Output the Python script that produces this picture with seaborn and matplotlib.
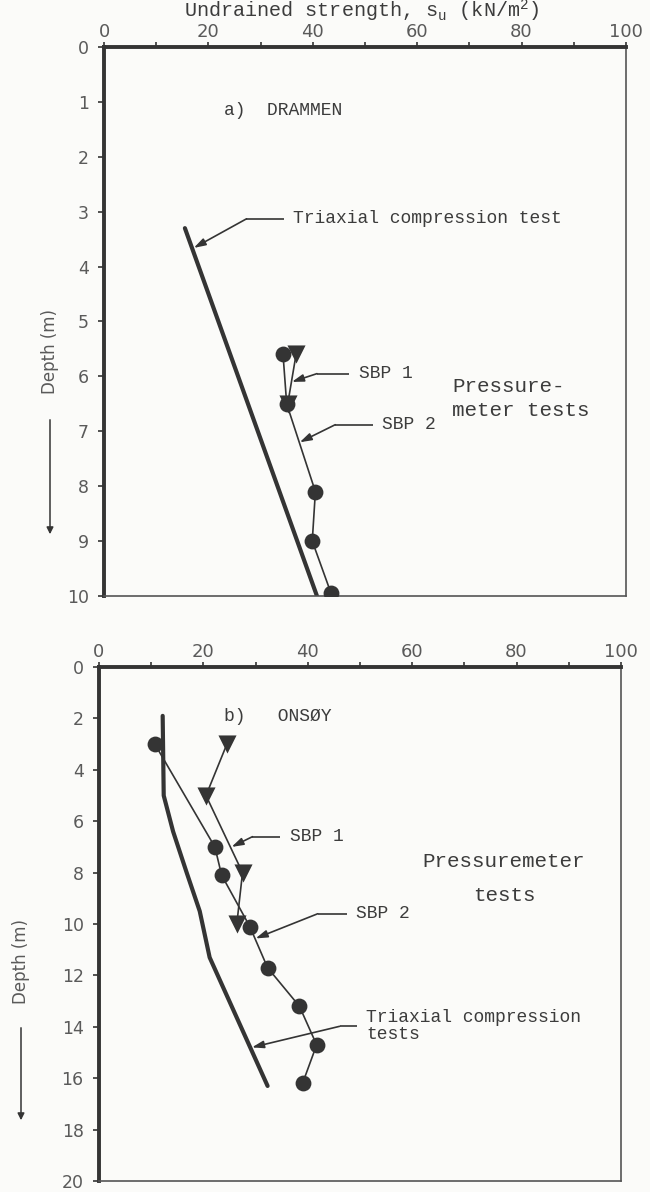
import matplotlib
matplotlib.use("Agg")
import matplotlib.pyplot as plt
import seaborn as sns

# ---------------- data ----------------
# a) Drammen
dr_triax_su = [15.5, 40.8]
dr_triax_depth = [3.3, 10.0]
dr_sbp1_su = [36.8, 35.2]
dr_sbp1_depth = [5.6, 6.5]
dr_sbp2_su = [34.3, 35.0, 40.5, 39.9, 43.5]
dr_sbp2_depth = [5.6, 6.5, 8.1, 9.0, 9.95]

# b) Onsoy
on_triax_su = [12.2, 12.4, 14.2, 16.8, 19.3, 21.2, 32.3]
on_triax_depth = [1.9, 5.0, 6.4, 8.0, 9.5, 11.3, 16.3]
on_sbp1_su = [24.5, 20.5, 27.5, 26.4]
on_sbp1_depth = [3.0, 5.0, 8.0, 10.0]
on_sbp2_su = [10.7, 22.2, 23.5, 28.9, 32.3, 38.4, 41.7, 39.0]
on_sbp2_depth = [3.0, 7.0, 8.1, 10.1, 11.7, 13.2, 14.7, 16.2]

x_major = [0, 20, 40, 60, 80, 100]
x_minor = [10, 30, 50, 70, 90]
top_yticks = list(range(0, 11))
bot_yticks = list(range(0, 21, 2))

# ---------------- style ----------------
sns.set_style("white")
BG = "#fbfbf9"
INK = "#343434"
TXT = "#3c3c3c"
TICKTXT = "#5a5a5a"
MONO = ["Liberation Mono", "DejaVu Sans Mono"]
plt.rcParams["font.family"] = ["DejaVu Sans"]
plt.rcParams["mathtext.fontset"] = "custom"
plt.rcParams["mathtext.rm"] = "Liberation Mono"

fig = plt.figure(figsize=(6.5, 11.92), dpi=100, facecolor=BG)
ax1 = fig.add_axes([0.160, 0.500, 0.803, 0.4606])
ax2 = fig.add_axes([0.1523, 0.0092, 0.803, 0.4312])


def style_axis(ax, ymax, yticks):
    ax.set_facecolor(BG)
    ax.set_xlim(0, 100)
    ax.set_ylim(ymax, 0)
    ax.xaxis.tick_top()
    ax.set_xticks(x_major)
    ax.set_xticks(x_minor, minor=True)
    ax.set_yticks(yticks)
    ax.tick_params(axis="x", which="both", direction="out", length=3.5, width=1.2,
                   color=INK, labelsize=13, labelcolor=TICKTXT, pad=0.5, top=True, bottom=False)
    ax.tick_params(axis="y", direction="out", length=4, width=1.2, color=INK,
                   labelsize=12.5, labelcolor=TICKTXT, pad=7, left=True)
    for side in ["top", "left"]:
        ax.spines[side].set_linewidth(2.8)
        ax.spines[side].set_color(INK)
    for side in ["right", "bottom"]:
        ax.spines[side].set_linewidth(1.2)
        ax.spines[side].set_color("#555555")
    ax.set_xlabel("")
    ax.set_ylabel("")


def leader(ax, text, tx, ty, elbow_x, tip, fs=13, ls=1.2):
    ax.annotate("", xy=tip, xytext=(elbow_x, ty),
                arrowprops=dict(arrowstyle="-|>,head_length=0.7,head_width=0.22",
                                lw=1.2, color=INK, shrinkA=0, shrinkB=0))
    ax.plot([elbow_x, tx - 1.8], [ty, ty], color=INK, lw=1.2, solid_capstyle="butt")
    ax.text(tx, ty, text, family=MONO, fontsize=fs, color=TXT, ha="left", va="center",
            linespacing=ls)


# ---------------- panel a ----------------
style_axis(ax1, 10, top_yticks)
sns.lineplot(x=dr_triax_su, y=dr_triax_depth, sort=False, estimator=None,
             color=INK, lw=3.0, ax=ax1)
sns.lineplot(x=dr_sbp1_su, y=dr_sbp1_depth, sort=False, estimator=None,
             color=INK, lw=1.2, ax=ax1)
sns.lineplot(x=dr_sbp2_su, y=dr_sbp2_depth, sort=False, estimator=None,
             color=INK, lw=1.2, ax=ax1)
sns.scatterplot(x=dr_sbp2_su, y=dr_sbp2_depth, marker="o", s=130, color=INK,
                edgecolor=INK, linewidth=0, ax=ax1, zorder=5)
sns.scatterplot(x=dr_sbp1_su, y=dr_sbp1_depth, marker="v", s=170, color=INK,
                edgecolor=INK, linewidth=0, ax=ax1, zorder=5)

ax1.text(23, 1.15, "a)  DRAMMEN", family=MONO, fontsize=13, color=TXT, ha="left", va="center")
leader(ax1, "Triaxial compression test", 36.2, 3.13, 27.3, (17.2, 3.66))
leader(ax1, "SBP 1", 48.8, 5.95, 40.8, (36.0, 6.1))
leader(ax1, "SBP 2", 53.3, 6.88, 44.3, (37.5, 7.2))
ax1.text(66.7, 6.4, "Pressure-\nmeter tests", family=MONO, fontsize=15, color=TXT,
         ha="left", va="center", linespacing=1.3)

fig.text(362 / 650, 1 - 11 / 1192,
         r"Undrained strength, $\mathregular{s_u}$ (kN/m$^\mathregular{2}$)",
         family=MONO, fontsize=14.5, color=TXT, ha="center", va="center")

# ---------------- panel b ----------------
style_axis(ax2, 20, bot_yticks)
sns.lineplot(x=on_triax_su, y=on_triax_depth, sort=False, estimator=None,
             color=INK, lw=3.0, ax=ax2)
sns.lineplot(x=on_sbp1_su, y=on_sbp1_depth, sort=False, estimator=None,
             color=INK, lw=1.2, ax=ax2)
sns.lineplot(x=on_sbp2_su, y=on_sbp2_depth, sort=False, estimator=None,
             color=INK, lw=1.2, ax=ax2)
sns.scatterplot(x=on_sbp2_su, y=on_sbp2_depth, marker="o", s=130, color=INK,
                edgecolor=INK, linewidth=0, ax=ax2, zorder=5)
sns.scatterplot(x=on_sbp1_su, y=on_sbp1_depth, marker="v", s=170, color=INK,
                edgecolor=INK, linewidth=0, ax=ax2, zorder=5)

ax2.text(24, 1.93, "b)   ONSØY", family=MONO, fontsize=13, color=TXT, ha="left", va="center")
leader(ax2, "SBP 1", 36.5, 6.6, 29.4, (25.4, 7.0))
leader(ax2, "SBP 2", 49.3, 9.6, 41.9, (30.0, 10.56))
leader(ax2, "Triaxial compression\ntests", 51.2, 13.98, 46.1, (29.3, 14.8), ls=1.0)
ax2.text(77.6, 7.55, "Pressuremeter", family=MONO, fontsize=15, color=TXT, ha="center", va="center")
ax2.text(77.6, 8.9, "tests", family=MONO, fontsize=15, color=TXT, ha="center", va="center")

# ---------------- depth labels with arrows ----------------
for (lx, ly, a0, a1) in [(50 / 650, 1 - 352 / 1192, 1 - 417 / 1192, 1 - 537 / 1192),
                         (21 / 650, 1 - 962 / 1192, 1 - 1025 / 1192, 1 - 1123 / 1192)]:
    fig.text(lx, ly, "Depth (m)", rotation=90, fontsize=12, color=TICKTXT,
             ha="center", va="center")
    fig.add_artist(matplotlib.patches.FancyArrowPatch(
        (lx, a0), (lx, a1), transform=fig.transFigure,
        arrowstyle="-|>,head_length=4,head_width=2", lw=1.1, color=INK))

fig.savefig("out.png", dpi=100, facecolor=BG)
